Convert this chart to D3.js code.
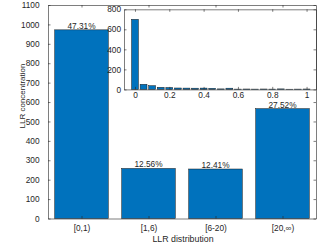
<!DOCTYPE html>
<html>
<head>
<meta charset="utf-8">
<script src="https://cdn.jsdelivr.net/npm/d3@7"></script>
<style>
  body { margin: 0; background: #fff; }
  svg text { font-family: "Liberation Sans", Arial, sans-serif; fill: #262626; }
</style>
</head>
<body>
<div id="chart"></div>
<script>
// main bars
var categories = ["[0,1)", "[1,6)", "[6-20)", "[20,\u221E)"];
var counts = [972, 258, 255, 566];
var percents = ["47.31%", "12.56%", "12.41%", "27.52%"];
var yTicks = [0, 100, 200, 300, 400, 500, 600, 700, 800, 900, 1000, 1100];

// inset histogram
var insetX = [0, 0.05, 0.1, 0.15, 0.2, 0.25, 0.3, 0.35, 0.4, 0.45, 0.5,
              0.55, 0.6, 0.65, 0.7, 0.75, 0.8, 0.85, 0.9, 0.95, 1];
var insetY = [700, 51, 37, 21, 19, 14, 13, 12, 13, 11, 5,
              12, 3, 4, 3, 4, 3, 5, 2, 3, 4];
var insetXTicks = [0, 0.2, 0.4, 0.6, 0.8, 1];
var insetYTicks = [0, 200, 400, 600, 800];

var W = 322, H = 250;
var axisCol = "#262626", barCol = "#0072BD";
var fs = 8.3;

var svg = d3.select("#chart").append("svg")
    .attr("width", W).attr("height", H);

function styleAxis(g) {
    g.selectAll("path, line").attr("stroke", axisCol).attr("stroke-width", 0.6);
    g.selectAll("text").attr("font-size", fs).attr("font-family", null).style("fill", axisCol);
}

// ---- main axes
var m = {left: 48, right: 316, top: 5, bottom: 218.5};
var x = d3.scaleLinear().domain([0.5, 4.5]).range([m.left, m.right]);
var y = d3.scaleLinear().domain([0, 1100]).range([m.bottom, m.top]);
var bw = (x(1.4) - x(0.6));

var main = svg.append("g");
main.selectAll("rect.bar").data(counts).enter().append("rect")
    .attr("class", "bar")
    .attr("x", function (d, i) { return x(i + 1) - bw / 2; })
    .attr("y", function (d) { return y(d); })
    .attr("width", bw)
    .attr("height", function (d) { return y(0) - y(d); })
    .attr("fill", barCol)
    .attr("stroke", "#1a1a1a").attr("stroke-width", 0.5);

main.selectAll("text.pct").data(counts).enter().append("text")
    .attr("class", "pct")
    .attr("x", function (d, i) { return x(i + 1); })
    .attr("y", function (d) { return y(d) - 1; })
    .attr("text-anchor", "middle")
    .attr("font-size", fs)
    .text(function (d, i) { return percents[i]; });

// axes with inward ticks (matlab look)
var ax = main.append("g").attr("transform", "translate(0," + m.bottom + ")")
    .call(d3.axisBottom(x).tickValues([1, 2, 3, 4])
        .tickFormat(function (d) { return categories[d - 1]; })
        .tickSizeInner(-2.5).tickSizeOuter(0).tickPadding(7));
var ay = main.append("g").attr("transform", "translate(" + m.left + ",0)")
    .call(d3.axisLeft(y).tickValues(yTicks).tickFormat(d3.format("d"))
        .tickSizeInner(-2.5).tickSizeOuter(0).tickPadding(8.5));
var axTop = main.append("g").attr("transform", "translate(0," + m.top + ")")
    .call(d3.axisTop(x).tickValues([1, 2, 3, 4]).tickFormat("").tickSizeInner(-2.5).tickSizeOuter(0));
var ayRight = main.append("g").attr("transform", "translate(" + m.right + ",0)")
    .call(d3.axisRight(y).tickValues(yTicks).tickFormat("").tickSizeInner(-2.5).tickSizeOuter(0));
[ax, ay, axTop, ayRight].forEach(styleAxis);

svg.append("text")
    .attr("x", 183).attr("y", 242)
    .attr("text-anchor", "middle").attr("font-size", 8.8)
    .text("LLR distribution");
svg.append("text")
    .attr("transform", "translate(25,96) rotate(-90)")
    .attr("text-anchor", "middle").attr("font-size", 8)
    .text("LLR concentration");

// ---- inset
var n = {left: 124, right: 316, top: 9.3, bottom: 89.4};
var xi = d3.scaleLinear().domain([-0.064, 1.055]).range([n.left, n.right]);
var yi = d3.scaleLinear().domain([0, 800]).range([n.bottom, n.top]);
var ibw = xi(0.04) - xi(0);

var inset = svg.append("g");
inset.append("rect")
    .attr("x", n.left).attr("y", n.top)
    .attr("width", n.right - n.left).attr("height", n.bottom - n.top)
    .attr("fill", "#fff");

inset.selectAll("rect.ibar").data(insetY).enter().append("rect")
    .attr("class", "ibar")
    .attr("x", function (d, i) { return xi(insetX[i]) - ibw / 2; })
    .attr("y", function (d) { return yi(d); })
    .attr("width", ibw)
    .attr("height", function (d) { return yi(0) - yi(d); })
    .attr("fill", barCol)
    .attr("stroke", "#1a1a1a").attr("stroke-width", 0.5);

var ix = inset.append("g").attr("transform", "translate(0," + n.bottom + ")")
    .call(d3.axisBottom(xi).tickValues(insetXTicks).tickFormat(d3.format("~g"))
        .tickSizeInner(-2.5).tickSizeOuter(0).tickPadding(2.5));
var iy = inset.append("g").attr("transform", "translate(" + n.left + ",0)")
    .call(d3.axisLeft(yi).tickValues(insetYTicks).tickSizeInner(-2.5).tickSizeOuter(0).tickPadding(3));
var ixTop = inset.append("g").attr("transform", "translate(0," + n.top + ")")
    .call(d3.axisTop(xi).tickValues(insetXTicks).tickFormat("").tickSizeInner(-2.5).tickSizeOuter(0));
var iyRight = inset.append("g").attr("transform", "translate(" + n.right + ",0)")
    .call(d3.axisRight(yi).tickValues(insetYTicks).tickFormat("").tickSizeInner(-2.5).tickSizeOuter(0));
[ix, iy, ixTop, iyRight].forEach(styleAxis);
</script>
</body>
</html>
